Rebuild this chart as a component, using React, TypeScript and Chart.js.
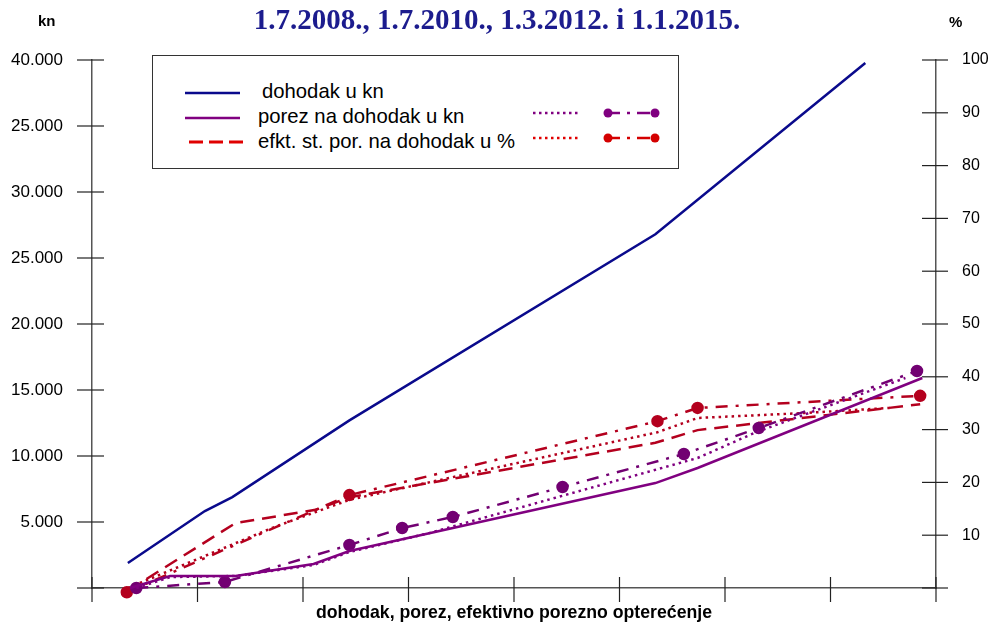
import React, { useEffect, useRef } from "react";
import { Chart, registerables } from "chart.js";

Chart.register(...registerables);

// ---- data ----
const xTickValues = [0, 1, 2, 3, 4, 5, 6, 7, 8];
const leftTickLabels = ["", "5.000", "10.000", "15.000", "20.000", "25.000", "30.000", "25.000", "40.000"];
const rightTickLabels = ["", "10", "20", "30", "40", "50", "60", "70", "80", "90", "100"];

// dohodak u kn (left axis)
const dohodakX = [0.34, 1.07, 1.33, 2.44, 5.34, 7.33];
const dohodakKn = [1900, 5830, 6890, 12700, 26800, 39770];

// porez na dohodak u kn – solid (left axis)
const porezAX = [0.36, 0.74, 1.36, 2.1, 2.44, 5.34, 5.74, 7.87];
const porezAKn = [0, 910, 910, 1820, 2800, 7950, 9090, 15910];

// porez – dotted (left axis)
const porezBX = [0.42, 0.74, 1.36, 2.1, 2.44, 3.2, 5.74, 6.3, 7.71];
const porezBKn = [0, 830, 910, 1740, 2730, 4170, 9850, 11820, 15910];

// porez – dash-dot with markers (left axis)
const porezCX = [0.42, 1.26, 2.44, 2.94, 3.42, 4.46, 5.61, 6.32, 7.82];
const porezCKn = [0, 455, 3260, 4545, 5380, 7650, 10150, 12120, 16440];

// efektivna stopa – dashed (right axis, %)
const stopaAX = [0.34, 1.36, 2.12, 2.44, 5.34, 5.74, 7.85];
const stopaAPct = [-0.5, 12.3, 14.8, 17.2, 27.5, 29.9, 34.8];

// efektivna stopa – dotted (right axis, %)
const stopaBX = [0.34, 1.71, 2.12, 2.44, 5.36, 5.74, 6.71, 7.56];
const stopaBPct = [0, 11.4, 14.4, 16.7, 29.5, 32.2, 33.1, 34.1];

// efektivna stopa – dash-dot with markers (right axis, %)
const stopaCX = [0.33, 2.44, 5.36, 5.74, 7.85];
const stopaCPct = [-0.8, 17.6, 31.6, 34.1, 36.4];

const pts = (xs: number[], ys: number[]) => xs.map((x, i) => ({ x, y: ys[i] }));

const BLUE = "#0a0a8c";
const PURPLE = "#800080";
const PURPLE_DK = "#720072";
const RED = "#b4001e";

const crossTicks = {
  id: "crossTicks",
  beforeDatasetsDraw(chart: any) {
    const { ctx } = chart;
    const x = chart.scales.x;
    const yL = chart.scales.yL;
    const yR = chart.scales.yR;
    ctx.save();
    ctx.strokeStyle = "#222";
    ctx.lineWidth = 1.2;
    const seg = (x1: number, y1: number, x2: number, y2: number) => {
      ctx.beginPath();
      ctx.moveTo(x1, y1);
      ctx.lineTo(x2, y2);
      ctx.stroke();
    };
    const ca = chart.chartArea;
    yL.ticks.forEach((t: any) => {
      const py = yL.getPixelForValue(t.value);
      seg(ca.left - 15, py, ca.left + 12, py);
    });
    yR.ticks.forEach((t: any) => {
      const py = yR.getPixelForValue(t.value);
      seg(ca.right - 14, py, ca.right + 12, py);
    });
    xTickValues.forEach((v) => {
      const px = x.getPixelForValue(v);
      seg(px, ca.bottom - 11, px, ca.bottom + 14);
    });
    ctx.restore();
  },
};

export default function App() {
  const ref = useRef<HTMLCanvasElement | null>(null);

  useEffect(() => {
    document.body.style.margin = "0";
    if (!ref.current) return;
    const tickFont = { family: "'Liberation Sans', Arial, sans-serif", size: 17 };
    const chart = new Chart(ref.current, {
      type: "line",
      data: {
        datasets: [
          {
            label: "dohodak u kn",
            data: pts(dohodakX, dohodakKn),
            yAxisID: "yL",
            borderColor: BLUE,
            borderWidth: 2.5,
            pointRadius: 0,
          },
          {
            label: "porez na dohodak u kn",
            data: pts(porezAX, porezAKn),
            yAxisID: "yL",
            borderColor: PURPLE,
            borderWidth: 2.5,
            pointRadius: 0,
          },
          {
            label: "porez dotted",
            data: pts(porezBX, porezBKn),
            yAxisID: "yL",
            borderColor: PURPLE,
            borderWidth: 2.5,
            borderDash: [2.5, 4],
            pointRadius: 0,
          },
          {
            label: "porez dash-dot",
            data: pts(porezCX, porezCKn),
            yAxisID: "yL",
            borderColor: PURPLE_DK,
            borderWidth: 2.5,
            borderDash: [12, 8, 3, 8],
            pointRadius: 5,
            pointBackgroundColor: PURPLE_DK,
            pointBorderColor: PURPLE_DK,
          },
          {
            label: "efkt. st. por. na dohodak u %",
            data: pts(stopaAX, stopaAPct),
            yAxisID: "yR",
            borderColor: RED,
            borderWidth: 2.5,
            borderDash: [14, 8],
            pointRadius: 0,
          },
          {
            label: "stopa dotted",
            data: pts(stopaBX, stopaBPct),
            yAxisID: "yR",
            borderColor: RED,
            borderWidth: 2.5,
            borderDash: [2.5, 4],
            pointRadius: 0,
          },
          {
            label: "stopa dash-dot",
            data: pts(stopaCX, stopaCPct),
            yAxisID: "yR",
            borderColor: RED,
            borderWidth: 2.5,
            borderDash: [12, 8, 3, 8],
            pointRadius: 5,
            pointBackgroundColor: RED,
            pointBorderColor: RED,
          },
        ] as any,
      },
      options: {
        animation: false,
        responsive: false,
        maintainAspectRatio: false,
        layout: { padding: { top: 60, left: 0, right: 0, bottom: 0 } },
        datasets: { line: { clip: false as any, tension: 0 } },
        plugins: { legend: { display: false }, tooltip: { enabled: false }, title: { display: false } },
        scales: {
          x: {
            type: "linear",
            min: 0,
            max: 8,
            grid: { display: false, drawTicks: false, tickLength: 0 },
            border: { display: true, color: "#555", width: 1.5 },
            ticks: { display: false, stepSize: 1 },
            title: {
              display: true,
              text: "dohodak, porez, efektivno porezno opterećenje",
              color: "#000",
              font: { family: "'Liberation Sans', Arial, sans-serif", size: 17.7, weight: "bold" },
              padding: { top: 0, bottom: 0 },
            },
            afterFit: (s: any) => {
              s.height = 36;
              s.paddingLeft = 0;
              s.paddingRight = 0;
            },
          },
          yL: {
            type: "linear",
            position: "left",
            min: 0,
            max: 40000,
            grid: { display: false, drawTicks: false, tickLength: 0 },
            border: { display: true, color: "#555", width: 1.5 },
            ticks: {
              stepSize: 5000,
              padding: 29,
              color: "#000",
              font: tickFont,
              callback: (v: any) => leftTickLabels[Math.round(Number(v) / 5000)] ?? "",
            },
            afterFit: (s: any) => {
              s.width = 92;
              s.paddingTop = 0;
              s.paddingBottom = 0;
            },
          },
          yR: {
            type: "linear",
            position: "right",
            min: 0,
            max: 100,
            grid: { display: false, drawTicks: false, tickLength: 0 },
            border: { display: true, color: "#555", width: 1.5 },
            ticks: {
              stepSize: 10,
              padding: 26,
              color: "#000",
              font: { family: "'Liberation Sans', Arial, sans-serif", size: 16 },
              callback: (v: any) => rightTickLabels[Math.round(Number(v) / 10)] ?? "",
            },
            afterFit: (s: any) => {
              s.width = 54;
              s.paddingTop = 0;
              s.paddingBottom = 0;
            },
          },
        },
      } as any,
      plugins: [crossTicks],
    });
    return () => chart.destroy();
  }, []);

  const sans = "'Liberation Sans', Arial, sans-serif";
  const legendText: React.CSSProperties = {
    position: "absolute",
    fontFamily: sans,
    fontSize: 20.3,
    lineHeight: "20px",
    whiteSpace: "nowrap",
    color: "#000",
  };

  return (
    <div style={{ position: "relative", width: 990, height: 624, background: "#fff", overflow: "hidden" }}>
      <canvas ref={ref} width={990} height={624} style={{ position: "absolute", left: 0, top: 0 }} />
      <div
        style={{
          position: "absolute",
          left: 0,
          width: 990,
          top: 5,
          textAlign: "center",
          fontFamily: "'Liberation Serif', 'Times New Roman', serif",
          fontWeight: "bold",
          fontSize: 29,
          lineHeight: "29px",
          color: "#1c1c8e",
          paddingLeft: 2,
        }}
      >
        1.7.2008., 1.7.2010., 1.3.2012. i 1.1.2015.
      </div>
      <div style={{ position: "absolute", left: 38, top: 13, fontFamily: sans, fontWeight: "bold", fontSize: 15, lineHeight: "15px" }}>kn</div>
      <div style={{ position: "absolute", left: 949, top: 14, fontFamily: sans, fontWeight: "bold", fontSize: 15, lineHeight: "15px" }}>%</div>
      <div
        style={{
          position: "absolute",
          left: 152,
          top: 55,
          width: 527,
          height: 114,
          border: "1.5px solid #333",
          background: "#fff",
          boxSizing: "border-box",
        }}
      />
      <span style={{ ...legendText, left: 262, top: 81 }}>dohodak u kn</span>
      <span style={{ ...legendText, left: 258, top: 106 }}>porez na dohodak u kn</span>
      <span style={{ ...legendText, left: 258, top: 131 }}>efkt. st. por. na dohodak u %</span>
      <svg width={990} height={624} style={{ position: "absolute", left: 0, top: 0, pointerEvents: "none" }}>
        <line x1={185} y1={93} x2={240} y2={93} stroke={BLUE} strokeWidth={2.5} />
        <line x1={185} y1={118} x2={240} y2={118} stroke={PURPLE} strokeWidth={2.5} />
        <line x1={189} y1={142} x2={243} y2={142} stroke="#e00000" strokeWidth={3} strokeDasharray="14 6" />
        <line x1={533} y1={113} x2={579} y2={113} stroke={PURPLE} strokeWidth={2.5} strokeDasharray="2.5 3.5" />
        <line x1={533} y1={138} x2={579} y2={138} stroke="#e00000" strokeWidth={2.5} strokeDasharray="2.5 3.5" />
        <g stroke={PURPLE} fill={PURPLE} strokeWidth={2.5}>
          <circle cx={608} cy={113} r={4.5} stroke="none" />
          <line x1={608} y1={113} x2={620} y2={113} />
          <line x1={627} y1={113} x2={630} y2={113} />
          <line x1={637} y1={113} x2={650} y2={113} />
          <circle cx={655} cy={113} r={4.5} stroke="none" />
        </g>
        <g stroke="#d40000" fill="#d40000" strokeWidth={2.5}>
          <circle cx={608} cy={138} r={4.5} stroke="none" />
          <line x1={608} y1={138} x2={620} y2={138} />
          <line x1={627} y1={138} x2={630} y2={138} />
          <line x1={637} y1={138} x2={650} y2={138} />
          <circle cx={655} cy={138} r={4.5} stroke="none" />
        </g>
      </svg>
    </div>
  );
}
